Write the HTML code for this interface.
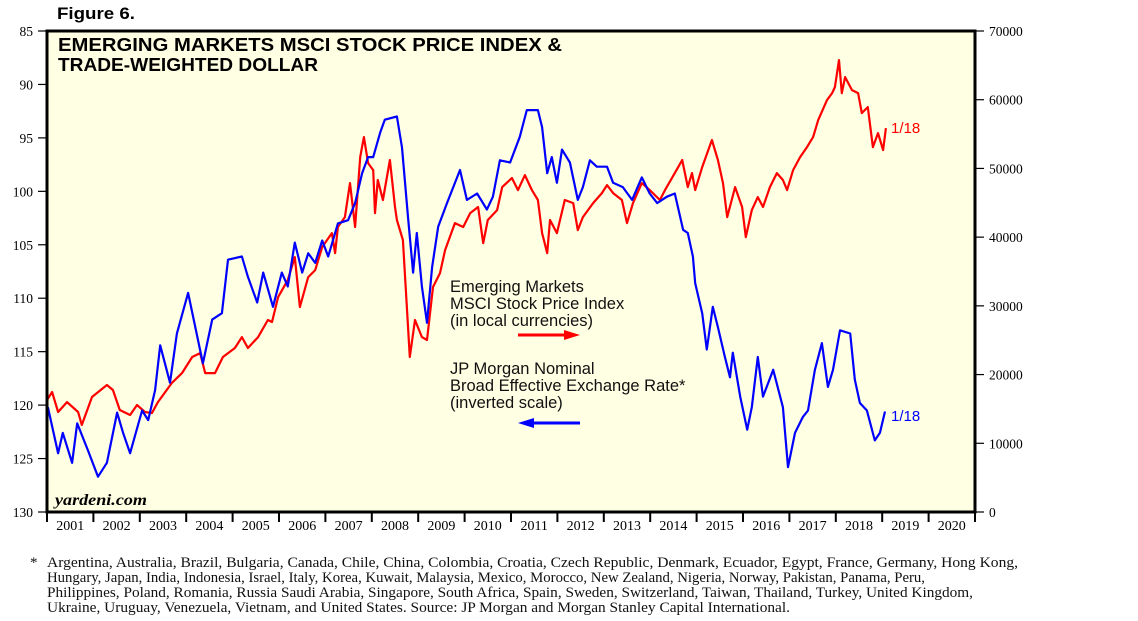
<!DOCTYPE html>
<html><head><meta charset="utf-8"><style>
body{margin:0;background:#fff;width:1138px;height:621px;overflow:hidden}
svg{position:absolute;left:0;top:0}
</style></head><body>
<svg width="1138" height="621" xmlns="http://www.w3.org/2000/svg">
<text x="57" y="19" font-family="Liberation Sans, sans-serif" font-weight="bold" font-size="17" textLength="78" lengthAdjust="spacingAndGlyphs">Figure 6.</text>
<rect x="47" y="31" width="928" height="481" fill="#ffffe3"/>
<g id="axes"></g>
<g id="series"></g>
<rect x="47" y="31" width="928" height="481" fill="none" stroke="#000" stroke-width="3"/>
<text x="58" y="51" font-family="Liberation Sans, sans-serif" font-weight="bold" font-size="18" textLength="504" lengthAdjust="spacingAndGlyphs">EMERGING MARKETS MSCI STOCK PRICE INDEX &amp;</text>
<text x="58" y="71" font-family="Liberation Sans, sans-serif" font-weight="bold" font-size="18" textLength="260" lengthAdjust="spacingAndGlyphs">TRADE-WEIGHTED DOLLAR</text>
<text x="55" y="505" font-family="Liberation Serif, serif" font-style="italic" font-weight="bold" font-size="16" textLength="92" lengthAdjust="spacingAndGlyphs">yardeni.com</text>
<g font-family="Liberation Sans, sans-serif" font-size="16.5" fill="#111">
<text x="450" y="292">Emerging Markets</text>
<text x="450" y="309">MSCI Stock Price Index</text>
<text x="450" y="326">(in local currencies)</text>
<text x="450" y="374">JP Morgan Nominal</text>
<text x="450" y="391">Broad Effective Exchange Rate*</text>
<text x="450" y="408">(inverted scale)</text>
</g>
<g><line x1="518" y1="335" x2="568" y2="335" stroke="#f00" stroke-width="3"/><polygon points="564,330 580,335 564,340" fill="#f00"/></g>
<g><line x1="530" y1="423" x2="580" y2="423" stroke="#00f" stroke-width="3"/><polygon points="534,418 518,423 534,428" fill="#00f"/></g>
<text x="891" y="133" font-family="Liberation Sans, sans-serif" font-size="15" fill="#f00">1/18</text>
<text x="891" y="421" font-family="Liberation Sans, sans-serif" font-size="15" fill="#00f">1/18</text>
<g font-family="Liberation Serif, serif" font-size="15" fill="#111" lengthAdjust="spacingAndGlyphs">
<text x="30" y="567">*</text>
<text x="47" y="567" textLength="971" lengthAdjust="spacingAndGlyphs">Argentina, Australia, Brazil, Bulgaria, Canada, Chile, China, Colombia, Croatia, Czech Republic, Denmark, Ecuador, Egypt, France, Germany, Hong Kong,</text>
<text x="47" y="582" textLength="878" lengthAdjust="spacingAndGlyphs">Hungary, Japan, India, Indonesia, Israel, Italy, Korea, Kuwait, Malaysia, Mexico, Morocco, New Zealand, Nigeria, Norway, Pakistan, Panama, Peru,</text>
<text x="47" y="597" textLength="926" lengthAdjust="spacingAndGlyphs">Philippines, Poland, Romania, Russia Saudi Arabia, Singapore, South Africa, Spain, Sweden, Switzerland, Taiwan, Thailand, Turkey, United Kingdom,</text>
<text x="47" y="612" textLength="743" lengthAdjust="spacingAndGlyphs">Ukraine, Uruguay, Venezuela, Vietnam, and United States. Source: JP Morgan and Morgan Stanley Capital International.</text>
</g>
</svg>
<script>
const leftTicks=[85,90,95,100,105,110,115,120,125,130];
const rightTicks=[0,10000,20000,30000,40000,50000,60000,70000];
const years=[2001,2002,2003,2004,2005,2006,2007,2008,2009,2010,2011,2012,2013,2014,2015,2016,2017,2018,2019,2020];
const dollarDates=[2001.02,2001.24,2001.34,2001.54,2001.65,2001.88,2002.10,2002.29,2002.51,2002.64,2002.79,2003.05,2003.18,2003.33,2003.44,2003.65,2003.80,2004.04,2004.36,2004.56,2004.77,2004.90,2005.20,2005.33,2005.53,2005.66,2005.87,2006.06,2006.19,2006.34,2006.50,2006.63,2006.78,2006.93,2007.06,2007.27,2007.49,2007.64,2007.79,2007.92,2008.03,2008.18,2008.28,2008.54,2008.65,2008.78,2008.89,2008.97,2009.08,2009.19,2009.30,2009.43,2009.62,2009.90,2010.05,2010.27,2010.48,2010.61,2010.76,2010.98,2011.19,2011.34,2011.58,2011.67,2011.78,2011.88,2011.99,2012.10,2012.27,2012.44,2012.55,2012.70,2012.85,2013.07,2013.20,2013.41,2013.61,2013.82,2013.99,2014.15,2014.36,2014.53,2014.71,2014.81,2014.92,2014.97,2015.12,2015.22,2015.35,2015.46,2015.61,2015.72,2015.78,2015.94,2016.09,2016.19,2016.32,2016.43,2016.65,2016.86,2016.97,2017.12,2017.29,2017.40,2017.55,2017.70,2017.83,2017.94,2018.09,2018.31,2018.41,2018.52,2018.67,2018.84,2018.95,2019.06];
const dollarValues=[120.2,124.5,122.6,125.4,121.7,124.2,126.7,125.4,120.7,122.6,124.5,120.5,121.4,118.6,114.4,117.9,113.3,109.5,116.1,112.0,111.4,106.4,106.1,108.0,110.4,107.6,110.8,107.6,108.9,104.8,107.6,105.8,106.7,104.6,106.1,103.0,102.7,101.1,98.3,96.8,96.8,94.5,93.3,93.0,95.9,102.4,107.6,103.9,108.9,112.3,107.1,103.3,101.1,98.0,100.8,100.2,101.7,100.5,97.1,97.3,94.9,92.4,92.4,94.0,98.3,96.8,99.2,96.1,97.3,100.8,99.6,97.1,97.7,97.7,99.2,99.6,100.8,98.7,100.2,101.1,100.5,100.2,103.6,103.9,106.1,108.6,111.4,114.8,110.8,112.7,115.5,117.4,115.1,119.2,122.3,120.2,115.5,119.2,116.7,120.2,125.8,122.6,121.1,120.5,116.7,114.2,118.3,116.7,113.0,113.3,117.6,119.8,120.5,123.3,122.6,120.6];
const msciDates=[2001.00,2001.11,2001.24,2001.43,2001.67,2001.75,2001.97,2002.29,2002.42,2002.57,2002.79,2002.94,2003.11,2003.26,2003.39,2003.69,2003.91,2004.13,2004.30,2004.41,2004.62,2004.79,2005.05,2005.20,2005.33,2005.55,2005.76,2005.85,2005.98,2006.19,2006.34,2006.45,2006.63,2006.78,2006.93,2007.14,2007.21,2007.27,2007.42,2007.53,2007.64,2007.75,2007.83,2007.92,2008.03,2008.07,2008.13,2008.24,2008.39,2008.50,2008.54,2008.67,2008.82,2008.93,2009.08,2009.19,2009.32,2009.47,2009.58,2009.79,2009.97,2010.12,2010.29,2010.40,2010.50,2010.70,2010.81,2011.02,2011.15,2011.30,2011.45,2011.58,2011.67,2011.78,2011.84,2011.99,2012.16,2012.34,2012.44,2012.55,2012.77,2012.96,2013.07,2013.20,2013.39,2013.50,2013.63,2013.82,2013.99,2014.21,2014.32,2014.53,2014.69,2014.81,2014.90,2014.97,2015.12,2015.33,2015.46,2015.57,2015.66,2015.83,2015.98,2016.06,2016.19,2016.32,2016.43,2016.58,2016.73,2016.86,2016.95,2017.08,2017.23,2017.38,2017.51,2017.62,2017.81,2017.92,2017.98,2018.07,2018.13,2018.20,2018.35,2018.48,2018.56,2018.69,2018.80,2018.91,2019.02,2019.08];
const msciValues=[16300,17460,14550,16000,14550,12660,16730,18480,17750,14840,14110,15570,14550,14400,16000,18770,20220,22550,23130,20220,20220,22550,23860,25460,23860,25460,27940,27650,31280,33760,37100,29830,34190,35210,38560,40590,37680,41470,42920,47870,41470,51650,54560,50780,49760,43500,48310,45400,51220,44380,42490,39580,22550,27940,25460,25030,32740,34770,38120,42050,41470,43500,44380,39140,42490,43940,47290,48600,46850,49030,46850,45400,40590,37680,42490,40590,45400,44960,41030,42920,44960,46410,47580,46410,45400,42050,44960,47870,46850,45400,46850,49320,51220,47290,49320,46850,50200,54130,51220,47870,42920,47290,44380,40010,43940,45830,44380,47290,49320,48310,46850,49760,51650,53110,54560,57040,59950,60960,61840,65770,60960,63290,61400,60960,58050,58930,53110,55140,52670,55870];

const NS='http://www.w3.org/2000/svg';
const X0=47,X1=975,Y0=31,Y1=512;
const xs=t=>X0+(t-2001)/20*(X1-X0);
const yl=v=>Y0+(v-85)/45*(Y1-Y0);
const yr=v=>Y1-v/70000*(Y1-Y0);
const axes=document.getElementById('axes'),series=document.getElementById('series');
function mk(tag,attrs,parent,text){const e=document.createElementNS(NS,tag);for(const k in attrs)e.setAttribute(k,attrs[k]);if(text!==undefined)e.textContent=text;parent.appendChild(e);return e;}
leftTicks.forEach(v=>{
  const l=mk('line',{x1:38,x2:47,y1:yl(v),y2:yl(v),stroke:'#000','stroke-width':1.2},axes);
  
  
  const t=mk('text',{x:33,y:yl(v)+5,'text-anchor':'end','font-family':'Liberation Serif, serif','font-size':13.5},axes,String(v));
  
  
});
rightTicks.forEach(v=>{
  const l=mk('line',{x1:975,x2:984,y1:yr(v),y2:yr(v),stroke:'#000','stroke-width':1.2},axes);
  
  
  const t=mk('text',{x:989,y:yr(v)+5,'font-family':'Liberation Serif, serif','font-size':13.5},axes,String(v));
  
  
});
years.forEach(y=>{
  const l=mk('line',{x1:xs(y),x2:xs(y),y1:512,y2:522,stroke:'#000','stroke-width':2},axes);
  
  
  const t=mk('text',{x:xs(y+0.5),y:530,'text-anchor':'middle','font-family':'Liberation Serif, serif','font-size':14},axes,String(y));
  
  
});
const lr=mk('line',{x1:975,x2:975,y1:512,y2:522,stroke:'#000','stroke-width':2},axes);


const pm=mk('polyline',{points:msciDates.map((d,i)=>xs(d).toFixed(1)+','+yr(msciValues[i]).toFixed(1)).join(' '),fill:'none',stroke:'#f00','stroke-width':2.2,'stroke-linejoin':'round'},series);


const pd=mk('polyline',{points:dollarDates.map((d,i)=>xs(d).toFixed(1)+','+yl(dollarValues[i]).toFixed(1)).join(' '),fill:'none',stroke:'#00f','stroke-width':2.2,'stroke-linejoin':'round'},series);


</script>
</body></html>
